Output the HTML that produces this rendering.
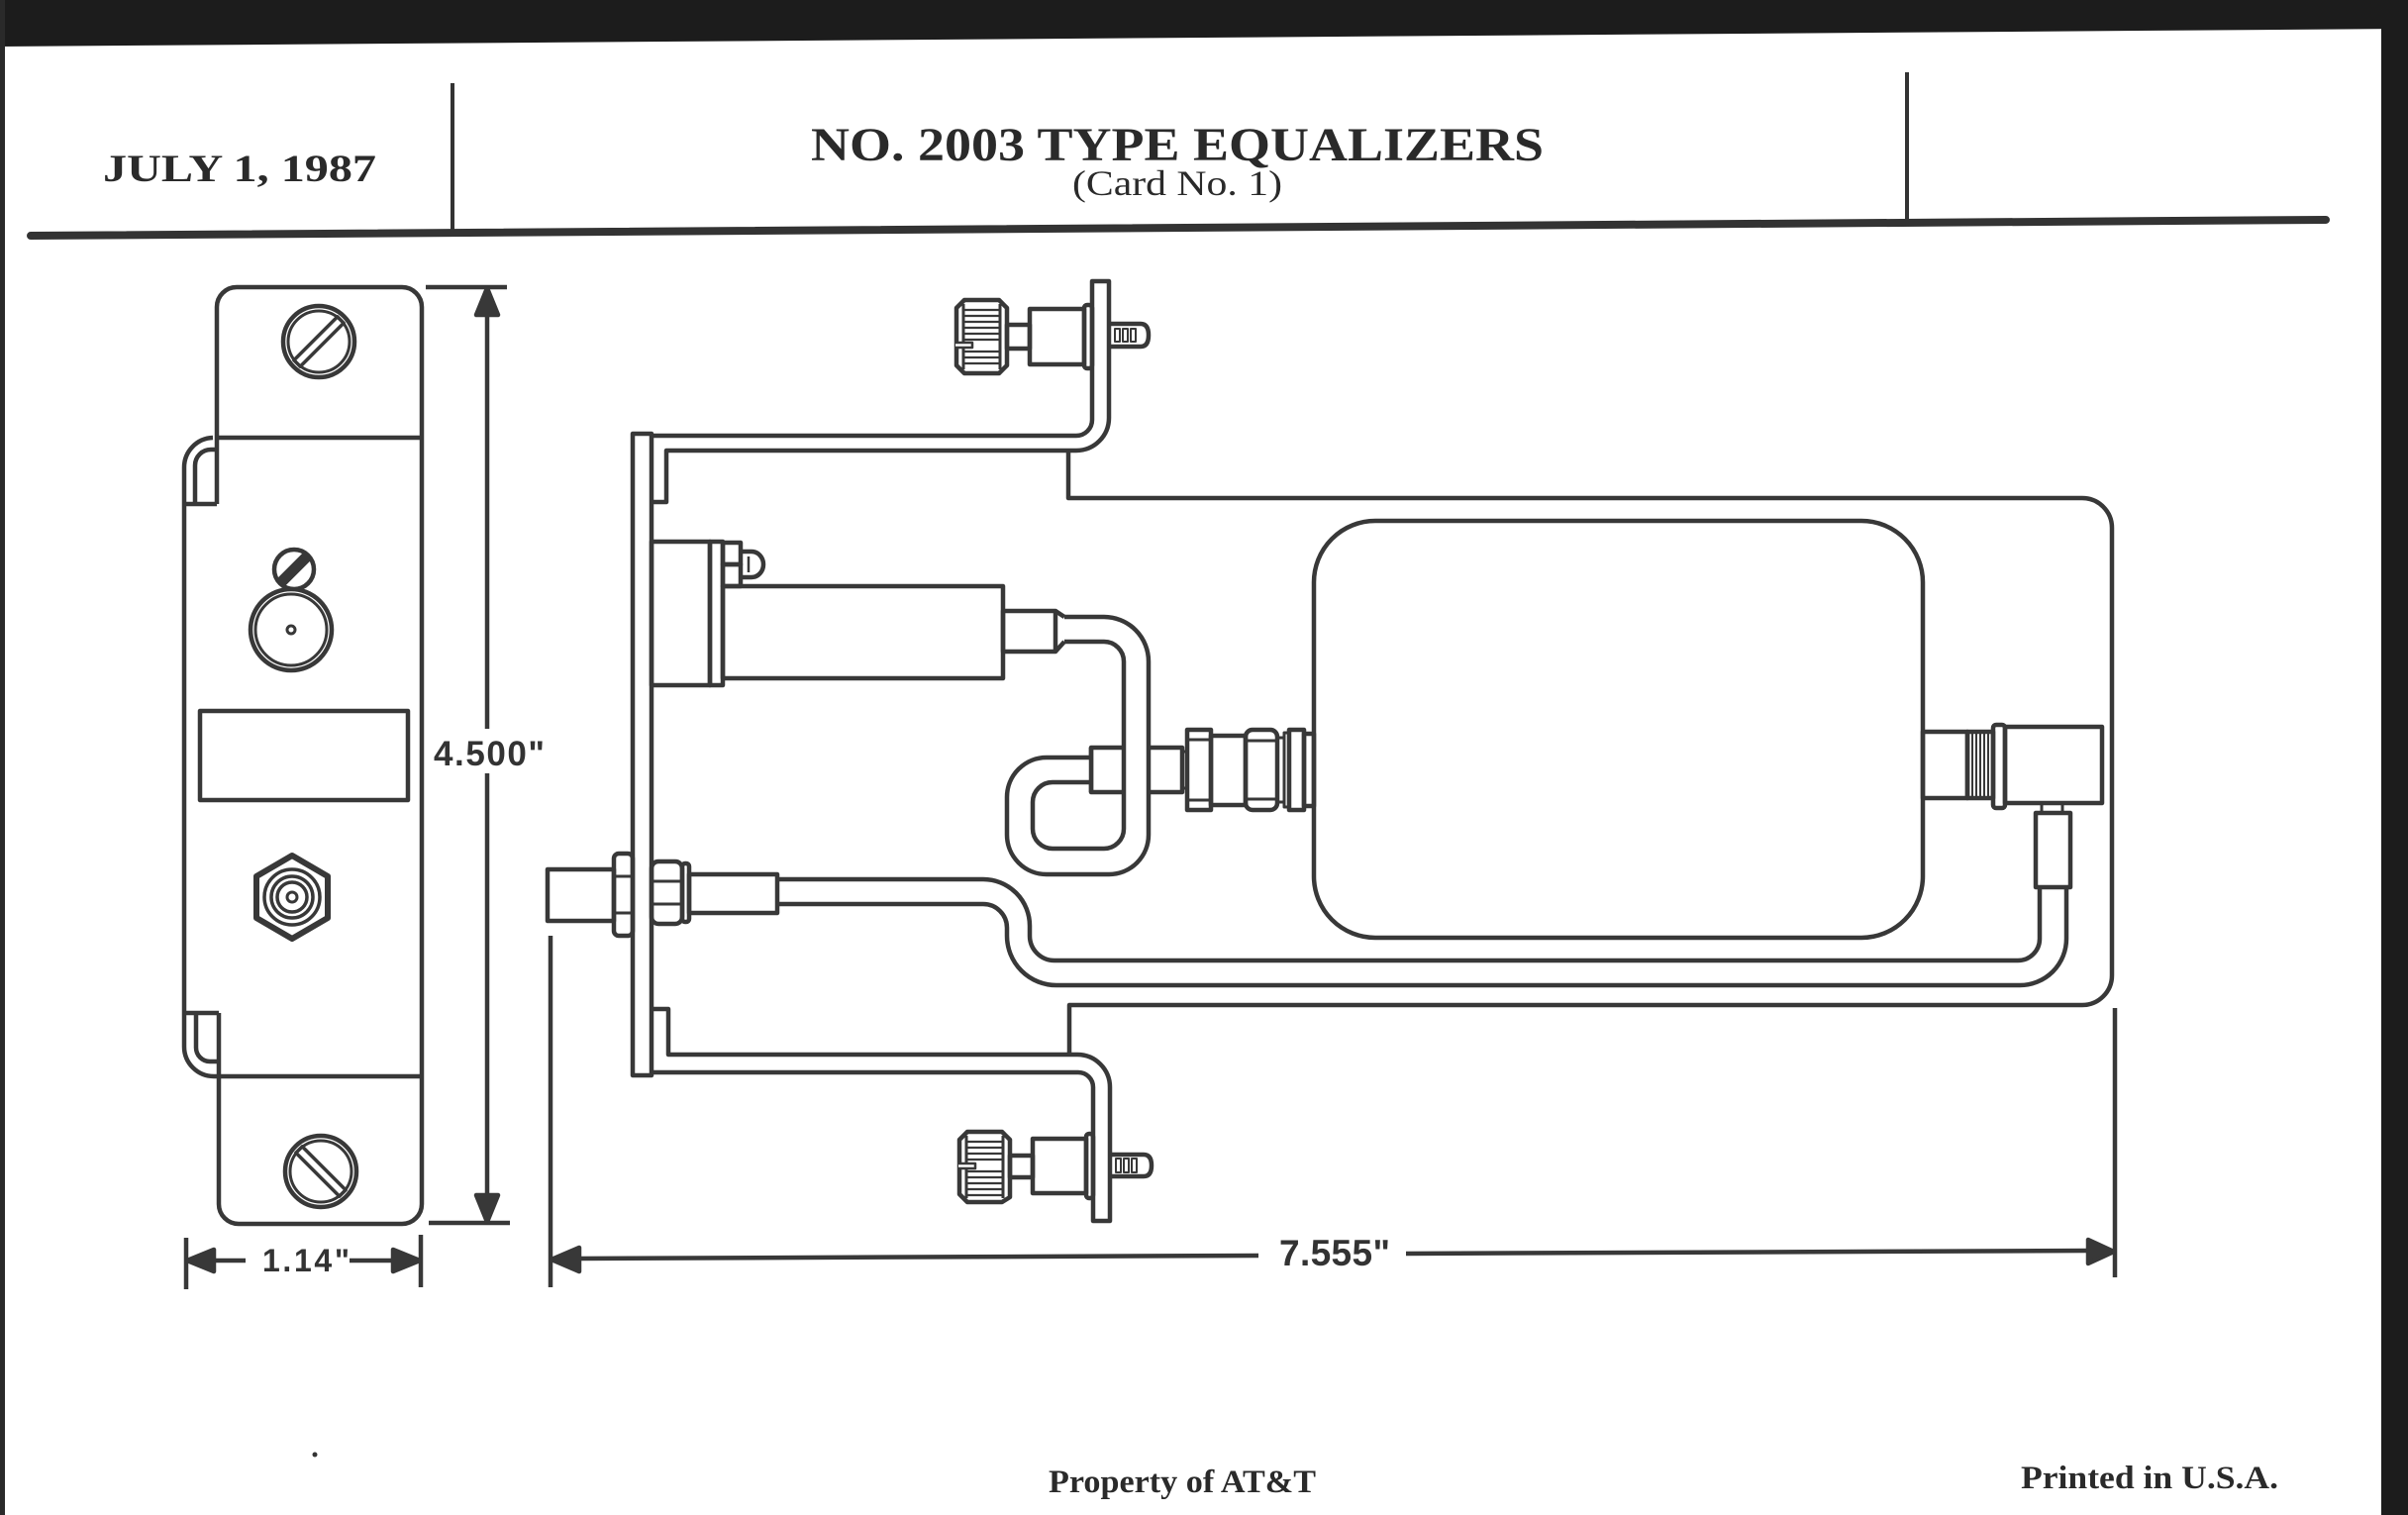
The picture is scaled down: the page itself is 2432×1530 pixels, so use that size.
<!DOCTYPE html>
<html><head><meta charset="utf-8">
<style>
html,body{margin:0;padding:0;background:#fff;}
svg{display:block}
.serif{font-family:"Liberation Serif",serif;font-weight:bold;fill:#2a2a2a}
.sans{font-family:"Liberation Sans",sans-serif;font-weight:bold;fill:#333}
</style></head>
<body>
<svg width="2432" height="1530" viewBox="0 0 2432 1530" xmlns="http://www.w3.org/2000/svg">
<rect width="2432" height="1530" fill="#fff"/>
<!-- scan borders -->
<polygon points="0,0 2432,0 2432,29 0,47" fill="#1c1c1c"/>
<rect x="2405" y="0" width="27" height="1530" fill="#1c1c1c"/>
<rect x="0" y="0" width="5" height="1530" fill="#2a2a2a"/>

<!-- header -->
<line x1="31" y1="238" x2="2349" y2="222" stroke="#333" stroke-width="8" stroke-linecap="round"/>
<line x1="457" y1="84" x2="457" y2="234" stroke="#333" stroke-width="4"/>
<line x1="1926" y1="73" x2="1926" y2="222" stroke="#333" stroke-width="4"/>
<text class="serif" x="104" y="183" font-size="39" textLength="276" lengthAdjust="spacingAndGlyphs">JULY 1, 1987</text>
<text class="serif" x="819" y="162" font-size="48" textLength="740" lengthAdjust="spacingAndGlyphs">NO. 2003 TYPE EQUALIZERS</text>
<text class="serif" x="1083" y="197" font-size="36" font-weight="normal" textLength="212" lengthAdjust="spacingAndGlyphs" style="font-weight:normal">(Card No. 1)</text>

<!-- footer -->
<text class="serif" x="1059" y="1507" font-size="33" textLength="270" lengthAdjust="spacingAndGlyphs">Property of AT&amp;T</text>
<text class="serif" x="2041" y="1503" font-size="33" textLength="260" lengthAdjust="spacingAndGlyphs">Printed in U.S.A.</text>
<circle cx="318" cy="1469" r="2.5" fill="#333"/>

<g fill="none" stroke="#383838" stroke-width="4.5" stroke-linejoin="round">
<!-- ================= LEFT FACE VIEW ================= -->
<path d="M219,509 V310 A20,20 0 0 1 239,290 H406 A20,20 0 0 1 426,310 V1216 A20,20 0 0 1 406,1236 H241 A20,20 0 0 1 221,1216 V1023"/>
<path d="M219,442 H426"/>
<path d="M215,442 A30,30 0 0 0 186,472 V1057 A30,30 0 0 0 216,1087 H426"/>
<path d="M186,509 H219"/>
<path d="M197,509 V470 A16,16 0 0 1 213,454 H219"/>
<path d="M186,1023 H221"/>
<path d="M198,1023 V1058 A14,14 0 0 0 212,1072 H221"/>
<rect x="202" y="718" width="210" height="90"/>

<!-- top screw -->
<circle cx="322" cy="345" r="36"/>
<circle cx="322" cy="345" r="31" stroke-width="3"/>
<g transform="translate(322,345) rotate(-45)"><rect x="-31" y="-4.5" width="62" height="9" stroke-width="3.5"/></g>
<!-- bottom screw -->
<circle cx="324" cy="1183" r="36"/>
<circle cx="324" cy="1183" r="31" stroke-width="3"/>
<g transform="translate(324,1183) rotate(45)"><rect x="-31" y="-4.5" width="62" height="9" stroke-width="3.5"/></g>
<!-- small screw + jack -->
<circle cx="297" cy="575" r="20"/>
<g transform="translate(297,575) rotate(-45)"><rect x="-19" y="-5.5" width="38" height="11" fill="#383838" stroke="none"/></g>
<circle cx="294" cy="636" r="41" fill="#fff"/>
<circle cx="294" cy="636" r="36" stroke-width="3"/>
<circle cx="294" cy="636" r="4" stroke-width="3"/>
<!-- hex BNC -->
<polygon points="295,864 331,885 331,927 295,948 259,927 259,885" stroke-width="6"/>
<circle cx="295" cy="906" r="28" stroke-width="3.5"/>
<circle cx="295" cy="906" r="21" stroke-width="3.5"/>
<circle cx="295" cy="906" r="15" stroke-width="3.5"/>
<circle cx="295" cy="906" r="5" stroke-width="3"/>

<!-- 4.500 dim -->
<line x1="430" y1="290" x2="512" y2="290"/>
<line x1="433" y1="1235" x2="515" y2="1235"/>
<line x1="492" y1="316" x2="492" y2="736"/>
<line x1="492" y1="781" x2="492" y2="1209"/>
<polygon points="492,291 481,318 503,318" fill="#383838"/>
<polygon points="492,1234 481,1207 503,1207" fill="#383838"/>
<!-- 1.14 dim -->
<line x1="188" y1="1250" x2="188" y2="1302"/>
<line x1="425" y1="1247" x2="425" y2="1300"/>
<line x1="214" y1="1273" x2="248" y2="1273"/>
<line x1="353" y1="1273" x2="399" y2="1273"/>
<polygon points="189,1273 216,1262 216,1284" fill="#383838"/>
<polygon points="424,1273 397,1262 397,1284" fill="#383838"/>
<!-- 7.555 dim -->
<line x1="556" y1="945" x2="556" y2="1300"/>
<line x1="2136" y1="1018" x2="2136" y2="1290"/>
<line x1="583" y1="1271" x2="1271" y2="1268"/>
<line x1="1420" y1="1266" x2="2111" y2="1263"/>
<polygon points="557,1272 585,1260 585,1284" fill="#383838"/>
<polygon points="2135,1264 2109,1252 2109,1276" fill="#383838"/>

<!-- ================= SIDE VIEW ================= -->
<!-- board outline -->
<path d="M1079,455 V503 H2103 A30,30 0 0 1 2133,533 V985 A30,30 0 0 1 2103,1015 H1080 V1065"/>
<!-- front panel -->
<rect x="639" y="438" width="19" height="648" fill="#fff"/>
<!-- upper bracket -->
<path d="M658,440 H1087 A16,16 0 0 0 1103,424 V284 H1120 V422 A33,33 0 0 1 1087,455 H673 V507 H658"/>
<!-- lower bracket -->
<path d="M658,1019 H675 V1065 H1088 A33,33 0 0 1 1121,1098 V1233 H1104 V1098 A15,15 0 0 0 1089,1083 H658"/>

<!-- thumbscrews -->
<g transform="translate(966,303)">
  <polygon points="8,0 43,0 51,8 51,66 43,74 8,74 0,66 0,8"/>
  <line x1="7" y1="4" x2="7" y2="70" stroke-width="3"/><line x1="44" y1="4" x2="44" y2="70" stroke-width="3"/>
  <g stroke-width="2.2"><line x1="7" y1="10" x2="44" y2="10"/><line x1="7" y1="16" x2="44" y2="16"/><line x1="7" y1="22" x2="44" y2="22"/><line x1="7" y1="28" x2="44" y2="28"/><line x1="7" y1="34" x2="44" y2="34"/><line x1="7" y1="40" x2="44" y2="40"/><line x1="7" y1="52" x2="44" y2="52"/><line x1="7" y1="58" x2="44" y2="58"/><line x1="7" y1="64" x2="44" y2="64"/></g>
  <path d="M-1,43 H16 V48 H-1" stroke-width="2.5" fill="#fff"/>
  <rect x="51" y="25" width="23" height="24"/>
  <rect x="74" y="9" width="55" height="56"/>
  <rect x="129" y="5" width="8" height="64" rx="3"/>
  <path d="M154,24 H186 Q194,24 194,35.5 Q194,47 186,47 H154"/>
  <g stroke-width="2"><rect x="160" y="29" width="5" height="13"/><rect x="168" y="29" width="5" height="13"/><rect x="176" y="29" width="5" height="13"/></g>
</g>
<g transform="translate(969,1143)">
  <polygon points="8,0 43,0 51,8 51,66 43,71 8,71 0,63 0,8"/>
  <line x1="7" y1="4" x2="7" y2="67" stroke-width="3"/><line x1="44" y1="4" x2="44" y2="67" stroke-width="3"/>
  <g stroke-width="2.2"><line x1="7" y1="10" x2="44" y2="10"/><line x1="7" y1="16" x2="44" y2="16"/><line x1="7" y1="22" x2="44" y2="22"/><line x1="7" y1="28" x2="44" y2="28"/><line x1="7" y1="40" x2="44" y2="40"/><line x1="7" y1="46" x2="44" y2="46"/><line x1="7" y1="52" x2="44" y2="52"/><line x1="7" y1="58" x2="44" y2="58"/><line x1="7" y1="64" x2="44" y2="64"/></g>
  <path d="M-1,32 H16 V37 H-1" stroke-width="2.5" fill="#fff"/>
  <rect x="51" y="24" width="23" height="22"/>
  <rect x="74" y="7" width="54" height="55"/>
  <rect x="128" y="2" width="7" height="65" rx="3"/>
  <path d="M152,23 H186 Q194,23 194,34 Q194,45 186,45 H152"/>
  <g stroke-width="2"><rect x="158" y="27" width="5" height="14"/><rect x="166" y="27" width="5" height="14"/><rect x="174" y="27" width="5" height="14"/></g>
</g>

<!-- upper jack -->
<rect x="658" y="547" width="59" height="145"/>
<rect x="717" y="547" width="13" height="145"/>
<rect x="730" y="548" width="18" height="22"/>
<rect x="730" y="570" width="18" height="22"/>
<path d="M748,557 H759 A12,13 0 0 1 759,583 H748"/>
<line x1="756" y1="562" x2="756" y2="578" stroke-width="2.5"/>
<rect x="730" y="592" width="283" height="93"/>
<rect x="1013" y="617" width="53" height="41"/>
<path d="M1066,617 L1075,623 M1066,658 L1075,648"/>

<!-- middle connector chain -->
<rect x="1102" y="755" width="92" height="45" fill="#fff"/>
<!-- tube loop (white under) -->
<path d="M1075,635.5 H1115 A32.5,32.5 0 0 1 1147.5,668 V840 A30,30 0 0 1 1117.5,870 H1060 A30,30 0 0 1 1030,840 V807.5 A30,30 0 0 1 1060,777.5 H1102" stroke="#fff" stroke-width="21"/>
<path d="M1075,623 H1115 A45,45 0 0 1 1160,668 V843 A40,40 0 0 1 1120,883 H1057 A40,40 0 0 1 1017,843 V805 A40,40 0 0 1 1057,765 H1102"/>
<path d="M1075,648 H1115 A20,20 0 0 1 1135,668 V837 A20,20 0 0 1 1115,857 H1063 A20,20 0 0 1 1043,837 V810 A20,20 0 0 1 1063,790 H1102"/>
<line x1="1102" y1="755" x2="1102" y2="800"/>
<rect x="1194" y="759" width="5" height="37" stroke-width="3"/>
<rect x="1199" y="737" width="24" height="81"/>
<line x1="1199" y1="747" x2="1223" y2="747" stroke-width="3"/><line x1="1199" y1="808" x2="1223" y2="808" stroke-width="3"/>
<rect x="1223" y="743" width="35" height="70"/>
<rect x="1258" y="737" width="32" height="81" rx="7"/>
<line x1="1258" y1="748" x2="1290" y2="748" stroke-width="3"/><line x1="1258" y1="807" x2="1290" y2="807" stroke-width="3"/>
<rect x="1290" y="745" width="7" height="65" stroke-width="3"/>
<rect x="1297" y="740" width="5" height="75" stroke-width="3"/>
<rect x="1302" y="737" width="15" height="81"/>
<rect x="1317" y="741" width="10" height="73"/>

<!-- equalizer box -->
<rect x="1327" y="526" width="615" height="421" rx="62" ry="62"/>

<!-- right connector -->
<rect x="1942" y="739" width="45" height="67"/>
<rect x="1987" y="739" width="26" height="67"/>
<g stroke-width="2"><line x1="1992" y1="739" x2="1992" y2="806"/><line x1="1996" y1="739" x2="1996" y2="806"/><line x1="2000" y1="739" x2="2000" y2="806"/><line x1="2004" y1="739" x2="2004" y2="806"/><line x1="2008" y1="739" x2="2008" y2="806"/></g>
<rect x="2013" y="732" width="12" height="84" rx="3"/>
<rect x="2025" y="734" width="98" height="77"/>
<rect x="2062" y="811" width="21" height="10" stroke-width="3"/>
<rect x="2056" y="821" width="35" height="75"/>

<!-- lower cable -->
<path d="M785,888 H993 A47,47 0 0 1 1040,935 V945 A25,25 0 0 0 1065,970 H2038 A22,22 0 0 0 2060,948 V896"/>
<path d="M785,913 H993 A24,24 0 0 1 1017,937 V945 A50,50 0 0 0 1067,995 H2040 A47,47 0 0 0 2087,948 V896"/>

<!-- lower BNC through panel -->
<rect x="553" y="878" width="67" height="52"/>
<rect x="620" y="862" width="19" height="83" rx="5"/>
<line x1="620" y1="885" x2="639" y2="885" stroke-width="3"/><line x1="620" y1="922" x2="639" y2="922" stroke-width="3"/>
<rect x="658" y="870" width="31" height="63" rx="7"/>
<line x1="658" y1="890" x2="689" y2="890" stroke-width="3"/><line x1="658" y1="913" x2="689" y2="913" stroke-width="3"/>
<rect x="689" y="872" width="7" height="59" rx="3"/>
<rect x="696" y="883" width="89" height="39"/>
</g>

<!-- dimension texts -->
<text class="sans" x="438" y="773" font-size="35" textLength="112" lengthAdjust="spacing">4.500"</text>
<text class="sans" x="265" y="1284" font-size="32" textLength="88" lengthAdjust="spacing">1.14"</text>
<text class="sans" x="1292" y="1278" font-size="37" textLength="112" lengthAdjust="spacing">7.555"</text>
</svg>
</body></html>
